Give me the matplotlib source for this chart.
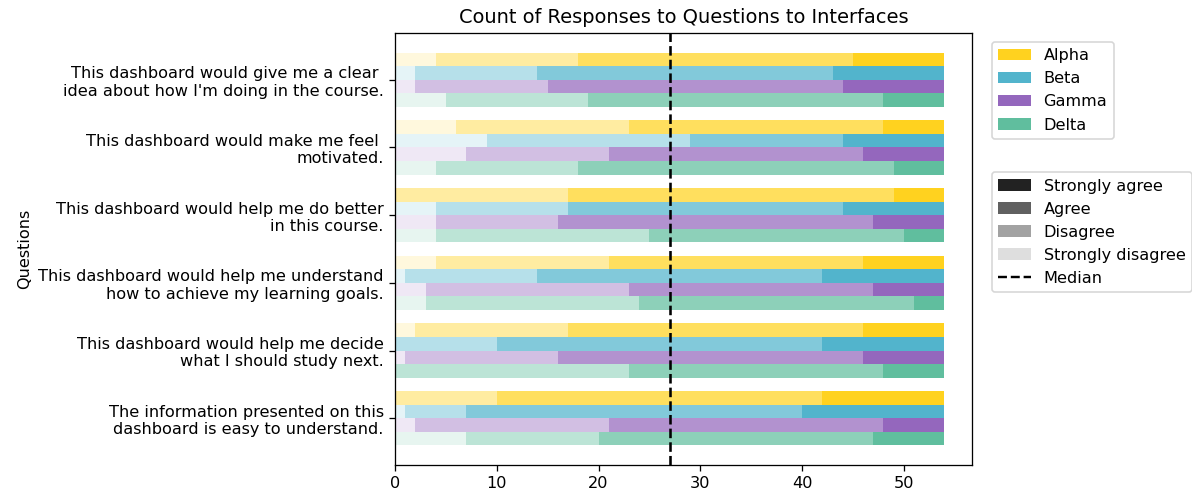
import numpy as np
import matplotlib
matplotlib.use("Agg")
import matplotlib.pyplot as plt
from matplotlib.patches import Patch
from matplotlib.lines import Line2D
from matplotlib.colors import to_rgb

questions = [
    "This dashboard would give me a clear \nidea about how I'm doing in the course.",
    "This dashboard would make me feel \nmotivated.",
    "This dashboard would help me do better\nin this course.",
    "This dashboard would help me understand\nhow to achieve my learning goals.",
    "This dashboard would help me decide\nwhat I should study next.",
    "The information presented on this\ndashboard is easy to understand.",
]
interfaces = ["Alpha", "Beta", "Gamma", "Delta"]
levels = ["Strongly disagree", "Disagree", "Agree", "Strongly agree"]

# counts per question: [strongly disagree, disagree, agree, strongly agree]
alpha_counts = [[4, 14, 27, 9], [6, 17, 25, 6], [0, 17, 32, 5],
                [4, 17, 25, 8], [2, 15, 29, 8], [0, 10, 32, 12]]
beta_counts = [[2, 12, 29, 11], [9, 20, 15, 10], [4, 13, 27, 10],
               [1, 13, 28, 12], [0, 10, 32, 12], [1, 6, 33, 14]]
gamma_counts = [[2, 13, 29, 10], [7, 14, 25, 8], [4, 12, 31, 7],
                [3, 20, 24, 7], [1, 15, 30, 8], [2, 19, 27, 6]]
delta_counts = [[5, 14, 29, 6], [4, 14, 31, 5], [4, 21, 25, 4],
                [3, 21, 27, 3], [0, 23, 25, 6], [7, 13, 27, 7]]
median_value = 27

colors = ["#FFD21F", "#52B4CC", "#9467BD", "#60BE9E"]
alphas = [0.15, 0.42, 0.72, 1.0]
gray = "#222222"


def shade(c, a):
    r = np.array(to_rgb(c))
    return tuple(r * a + (1 - a))


# rendered at a slightly higher dpi so text matches the reference scale
dpi = 116
fig = plt.figure(figsize=(1192 / dpi, 493 / dpi), dpi=dpi)
ax = fig.add_axes([0.3314, 0.0568, 0.4840, 0.8763])

all_counts = [alpha_counts, beta_counts, gamma_counts, delta_counts]
offsets = [0.3, 0.1, -0.1, -0.3]
centers = np.arange(len(questions))[::-1]

for k, counts in enumerate(all_counts):
    data = np.array(counts)
    left = np.zeros(len(questions))
    for j in range(len(levels)):
        ax.barh(centers + offsets[k], data[:, j], height=0.2, left=left,
                color=shade(colors[k], alphas[j]))
        left += data[:, j]

ax.axvline(median_value, color="black", linestyle="--", linewidth=1.6)
ax.set_xlim(0, 54 * 1.05)
ax.set_yticks(centers)
ax.set_yticklabels(questions)
ax.set_ylabel("Questions")
ax.set_title("Count of Responses to Questions to Interfaces")

h1 = [Patch(facecolor=c, label=n) for c, n in zip(colors, interfaces)]
fig.legend(handles=h1, loc="upper left", bbox_to_anchor=(0.8322, 0.915),
           borderaxespad=0)

h2 = [Patch(facecolor=shade(gray, a), label=n)
      for a, n in zip(alphas[::-1], levels[::-1])]
h2.append(Line2D([0], [0], color="black", linestyle="--", label="Median"))
fig.legend(handles=h2, loc="upper left", bbox_to_anchor=(0.8322, 0.651),
           borderaxespad=0)

fig.savefig("out.png", dpi=dpi)
